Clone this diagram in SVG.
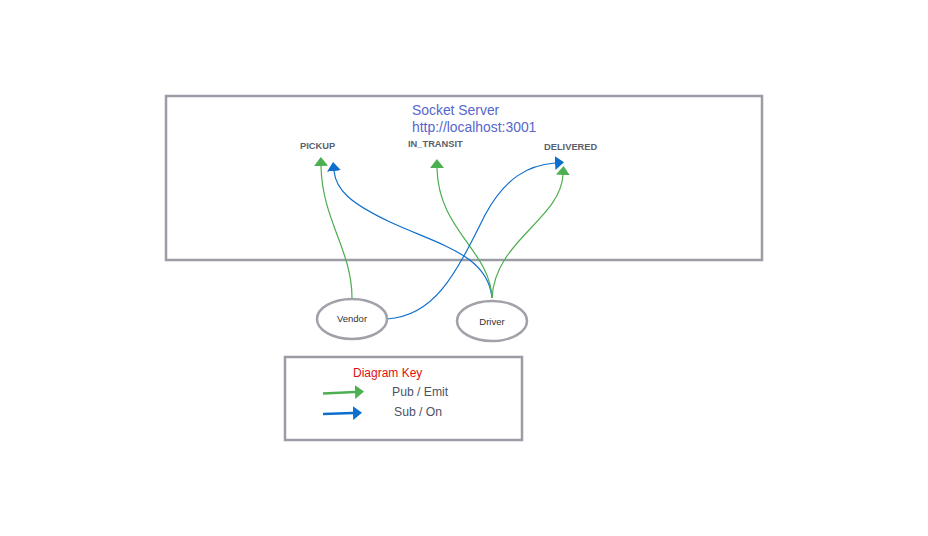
<svg xmlns="http://www.w3.org/2000/svg" width="928" height="536" viewBox="0 0 928 536">
<style>
.box{fill:#fff;stroke:#9b9ca5;stroke-width:2.5}
.node{fill:#fff;stroke:#a0a1a9;stroke-width:2.5}
.g{fill:none;stroke:#4caf50;stroke-width:1.2}
.b{fill:none;stroke:#0d6fcb;stroke-width:1.2}
.topic{font-family:"Liberation Sans",Arial,sans-serif;font-size:9.3px;font-weight:bold;fill:#5b5f6e}
.title{font-family:"Liberation Sans",Arial,sans-serif;font-size:13.9px;fill:#5566cc}
.nl{font-family:"Liberation Sans",Arial,sans-serif;font-size:9.5px;fill:#333;text-anchor:middle}
.kt{font-family:"Liberation Sans",Arial,sans-serif;font-size:12.2px;fill:#4d5266}
</style>
<defs>
<marker id="ag" markerUnits="userSpaceOnUse" markerWidth="9" markerHeight="14" viewBox="0 0 9 14" refX="0" refY="7" orient="auto"><path d="M0,0 L9,7 L0,14 z" fill="#4caf50"/></marker>
<marker id="ab" markerUnits="userSpaceOnUse" markerWidth="9" markerHeight="14" viewBox="0 0 9 14" refX="0" refY="7" orient="auto"><path d="M0,0 L9,7 L0,14 z" fill="#0d6fcb"/></marker>
</defs>
<rect width="928" height="536" fill="#fff"/>
<g id="server">
<rect class="box" x="166" y="96" width="596" height="164"/>
<text class="title" x="412" y="115">Socket Server</text>
<text class="title" x="412" y="132">http://localhost:3001</text>
<text class="topic" x="300" y="149">PICKUP</text>
<text class="topic" x="408" y="147">IN_TRANSIT</text>
<text class="topic" x="544" y="150">DELIVERED</text>
</g>
<g id="connectors">
<path class="g" d="M352,298 C352,250 322,220 321,166" marker-end="url(#ag)"/>
<path class="b" d="M492,298 C488,255 440,245 390,222 C350,203 336,190 334,171" marker-end="url(#ab)"/>
<path class="g" d="M492,298 C490,250 438,230 437,168" marker-end="url(#ag)"/>
<path class="g" d="M492,298 C495,240 560,220 563,175" marker-end="url(#ag)"/>
<path class="b" d="M387,319 C435,316 455,275 485,215 C505,178 528,165 555,163" marker-end="url(#ab)"/>
</g>
<g id="vendor">
<ellipse class="node" cx="352" cy="319" rx="35" ry="20"/>
<text class="nl" x="352" y="322">Vendor</text>
</g>
<g id="driver">
<ellipse class="node" cx="492" cy="321" rx="35" ry="20"/>
<text class="nl" x="492" y="325">Driver</text>
</g>
<g id="key">
<rect class="box" x="285" y="357" width="237" height="83"/>
<text x="353" y="377" font-family="Liberation Sans, Arial, sans-serif" font-size="12px" fill="#e01010">Diagram Key</text>
<path d="M323,393.5 L355,392" fill="none" stroke="#4caf50" stroke-width="2.5" marker-end="url(#ag)"/>
<path d="M323,414 L353,413" fill="none" stroke="#0d6fcb" stroke-width="2.5" marker-end="url(#ab)"/>
<text class="kt" x="392" y="396">Pub / Emit</text>
<text class="kt" x="394" y="416">Sub / On</text>
</g>
</svg>
